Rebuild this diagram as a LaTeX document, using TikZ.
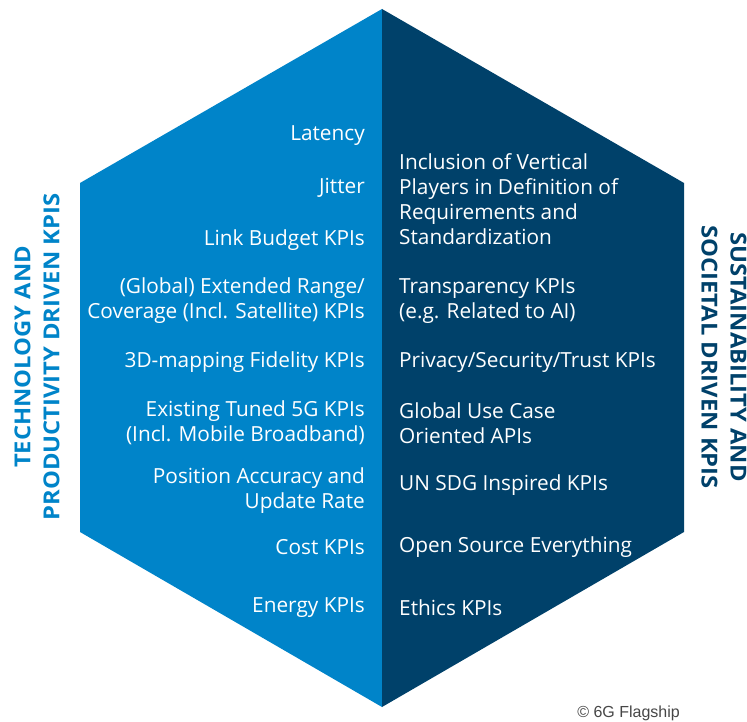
\documentclass[tikz,border=0pt]{standalone}
\usepackage{fontspec}
\setmainfont{Open Sans}
\newfontfamily\labelfont[FakeStretch=1.08]{Open Sans}
\newfontfamily\creditfont{Liberation Sans}
\definecolor{leftblue}{RGB}{0,132,201}
\definecolor{navy}{RGB}{0,65,106}
\definecolor{credit}{RGB}{70,70,70}
\begin{document}
\begin{tikzpicture}[x=1pt,y=-1pt,
  kpil/.style={anchor=east,align=right,text=white,inner sep=0pt,font=\fontsize{20.8}{25}\selectfont},
  kpir/.style={anchor=west,align=left,text=white,inner sep=0pt,font=\fontsize{20.8}{25}\selectfont},
  sidelabel/.style={align=center,inner sep=0pt,font=\labelfont\bfseries\fontsize{22}{29}\selectfont}]
\useasboundingbox (0,0) rectangle (747,722);
% hexagon halves
\fill[leftblue] (382,9) -- (80,183) -- (80,532) -- (382,707) -- cycle;
\fill[navy] (382,9) -- (684,183) -- (684,532) -- (382,707) -- cycle;
% left column
\node[kpil] (l1) at (365,136) {Latency};
\node[kpil] (l2) at (365,188) {Jitter};
\node[kpil] (l3) at (365,240) {Link Budget KPIs};
\node[kpil] (l4) at (365,301) {(Global) Extended Range/\\Coverage (Incl. Satellite) KPIs};
\node[kpil] (l5) at (365,362) {3D-mapping Fidelity KPIs};
\node[kpil] (l6) at (365,423) {Existing Tuned 5G KPIs\\(Incl. Mobile Broadband)};
\node[kpil] (l7) at (365,491) {Position Accuracy and\\Update Rate};
\node[kpil] (l8) at (365,547) {Cost KPIs};
\node[kpil] (l9) at (365,608) {Energy KPIs};
% right column
\node[kpir] (r1) at (399,199) {Inclusion of Vertical\\Players in Definition of\\Requirements and\\Standardization};
\node[kpir] (r2) at (399,301) {Transparency KPIs\\(e.g. Related to AI)};
\node[kpir] (r3) at (399,362) {Privacy/Security/Trust KPIs};
\node[kpir] (r4) at (399,423) {Global Use Case\\Oriented APIs};
\node[kpir] (r5) at (399,485) {UN SDG Inspired KPIs};
\node[kpir] (r6) at (399,547) {Open Source Everything};
\node[kpir] (r7) at (399,608) {Ethics KPIs};
% side labels
\node[sidelabel,text=leftblue,rotate=90] (lt) at (37,357) {TECHNOLOGY AND\\PRODUCTIVITY DRIVEN KPIS};
\node[sidelabel,text=navy,rotate=-90] (rt) at (724,357) {SUSTAINABILITY AND\\SOCIETAL DRIVEN KPIS};
% credit
\node[anchor=east,inner sep=0pt,text=credit,font=\creditfont\fontsize{16}{18}\selectfont] (cr) at (680,713) {\textcopyright{} 6G Flagship};
\end{tikzpicture}
\end{document}
